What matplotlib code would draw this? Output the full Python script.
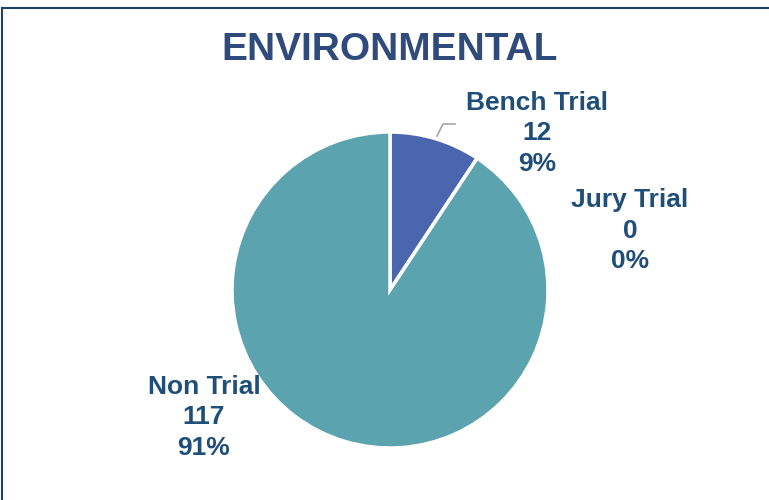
import matplotlib.pyplot as plt
from matplotlib.lines import Line2D

# -----------------------
# Data
# -----------------------

categories = ["Bench Trial", "Jury Trial", "Non Trial"]
counts = [12, 0, 117]
colors = ["#4A66AE", "#4A7EBB", "#5BA3AE"]
title = "ENVIRONMENTAL"

text_color = "#1F4E79"

plt.rcParams["font.family"] = ["Liberation Sans", "DejaVu Sans"]

fig = plt.figure(figsize=(7.69, 5), dpi=100)

# pie centered near (390, 290) px, radius ~158 px
W, H = 769, 500
cx, cy, r = 390, 290, 158
ax = fig.add_axes([(cx - r) / W, (H - cy - r) / H, 2 * r / W, 2 * r / H])

wedges, _ = ax.pie(
    counts,
    colors=colors,
    startangle=90,
    counterclock=False,
    radius=1,
    wedgeprops=dict(edgecolor="white", linewidth=2.5),
)
ax.set_xlim(-1, 1)
ax.set_ylim(-1, 1)
ax.set_aspect("equal")

total = sum(counts)

# -----------------------
# Data labels
# -----------------------

# label positions in pixels (x centre, first line y)
label_pos = {
    "Bench Trial": (537, 103),
    "Jury Trial": (630, 200),
    "Non Trial": (204, 387),
}

for name, n in zip(categories, counts):
    x, y = label_pos[name]
    pct = round(100 * n / total)
    for i, line in enumerate([name, str(n), f"{pct}%"]):
        fig.text(
            x / W, 1 - (y + i * 30.5) / H, line,
            ha="center", va="center",
            fontsize=19, fontweight="bold", color=text_color,
        )

# leader line for Bench Trial
lx = [437, 443, 455]
ly = [136, 124, 124]
fig.add_artist(Line2D([v / W for v in lx], [1 - v / H for v in ly],
                      color="#A6A6A6", linewidth=1.2))

# title
fig.text(390 / W, 1 - 50 / H, title, ha="center", va="center",
         fontsize=28, fontweight="bold", color="#2F4B7C")

# border (top and left visible)
fig.add_artist(Line2D([2 / W, 1], [1 - 8 / H, 1 - 8 / H], color="#1F3F6E", linewidth=1.5))
fig.add_artist(Line2D([2 / W, 2 / W], [0, 1 - 8 / H], color="#1F3F6E", linewidth=1.5))

fig.savefig("out.png", dpi=100)
